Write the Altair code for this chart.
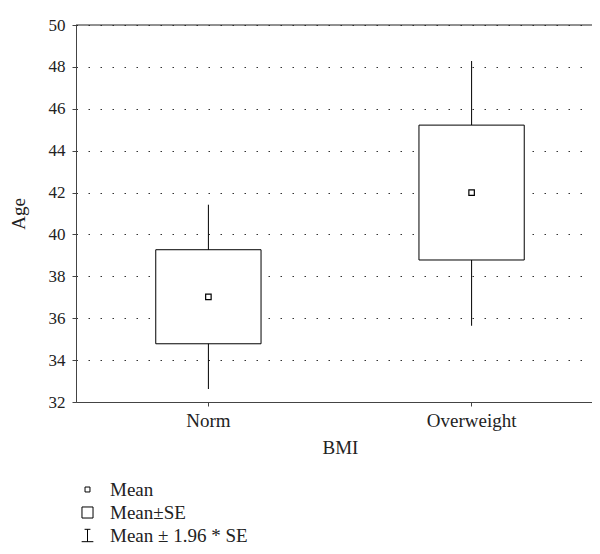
import altair as alt
import pandas as pd

# ---- data ----
groups = ["Norm", "Overweight"]
means = [37.02, 42.0]
se_low = [34.78, 38.78]
se_high = [39.27, 45.22]
ci_low = [32.62, 35.64]
ci_high = [41.42, 48.28]

y_ticks = [32, 34, 36, 38, 40, 42, 44, 46, 48, 50]
y_top = [50]

legend_labels = ["Mean", "Mean\u00b1SE", "Mean \u00b1 1.96 * SE"]
legend_shapes = [
    "M-0.38,-0.38L0.38,-0.38L0.38,0.38L-0.38,0.38Z",
    "M-0.85,-0.85L0.85,-0.85L0.85,0.85L-0.85,0.85Z",
    "M0,-0.95L0,0.95M-0.9,0.95L0.9,0.95M-0.45,-0.95L0.45,-0.95",
]

FONT = "Liberation Serif"
TXT = "#222222"
LINE = "#444444"

df = pd.DataFrame({
    "BMI": groups,
    "mean": means,
    "se_low": se_low,
    "se_high": se_high,
    "ci_low": ci_low,
    "ci_high": ci_high,
})
leg_df = pd.DataFrame({"item": legend_labels})
top_df = pd.DataFrame({"v": y_top})

x_scale = alt.Scale(type="band", range=[0, 528], paddingInner=0.6, paddingOuter=0.303)
x_enc = alt.X(
    "BMI:N",
    sort=groups,
    scale=x_scale,
    axis=alt.Axis(
        title="BMI", labelAngle=0, tickSize=4, labelPadding=5, titlePadding=8,
        labelFontSize=19, titleFontSize=19,
        domainColor=LINE, tickColor=LINE, grid=False,
    ),
)
y_scale = alt.Scale(domain=[32, 50], nice=False, zero=False)

whisk = alt.Chart(df).mark_rule(color="black", strokeWidth=1).encode(
    x=x_enc,
    y=alt.Y(
        "ci_low:Q", scale=y_scale,
        axis=alt.Axis(
            title="Age", values=y_ticks, tickSize=4, labelPadding=7, titlePadding=20,
            labelFontSize=17, titleFontSize=19,
            domainColor=LINE, tickColor=LINE, grid=True, gridDash=[1.5, 10.5],
            gridColor="#333333", gridWidth=1,
        ),
    ),
    y2="ci_high:Q",
)
box = alt.Chart(df).mark_rect(fill="white", stroke="black", strokeWidth=1).encode(
    x=x_enc, y=alt.Y("se_low:Q", scale=y_scale), y2="se_high:Q"
)
pt = alt.Chart(df).mark_point(shape="square", size=30, filled=True, fill="white",
                              stroke="black", strokeWidth=1.2, opacity=1).encode(
    x=x_enc, y=alt.Y("mean:Q", scale=y_scale)
)
top_line = alt.Chart(top_df).mark_rule(color="#222222", strokeWidth=1).encode(
    y=alt.Y("v:Q", scale=y_scale)
)
leg = alt.Chart(leg_df).mark_point(
    clip=True, filled=False, color="black", strokeWidth=1, size=169, opacity=1
).encode(
    x=alt.value(-200),
    y=alt.value(-200),
    shape=alt.Shape(
        "item:N",
        sort=legend_labels,
        scale=alt.Scale(domain=legend_labels, range=legend_shapes),
        legend=alt.Legend(
            orient="none", legendX=2, legendY=455, title=None, direction="vertical",
            labelFont=FONT, labelFontSize=19, labelColor=TXT, rowPadding=3,
            symbolSize=169, symbolStrokeWidth=1, symbolStrokeColor="black",
            symbolFillColor="white", labelOffset=13,
        ),
    ),
)

chart = alt.layer(whisk, box, pt, top_line, leg).properties(
    width=516,
    height=377,
    autosize=alt.AutoSizeParams(type="none"),
    padding={"left": 68, "top": 17, "right": 0, "bottom": 144},
).configure_view(
    strokeWidth=0
).configure_axis(
    labelFont=FONT, titleFont=FONT,
    labelColor=TXT, titleColor=TXT, titleFontWeight="normal",
)

chart.save("out.html", embed_options={"renderer": "svg", "actions": False})
